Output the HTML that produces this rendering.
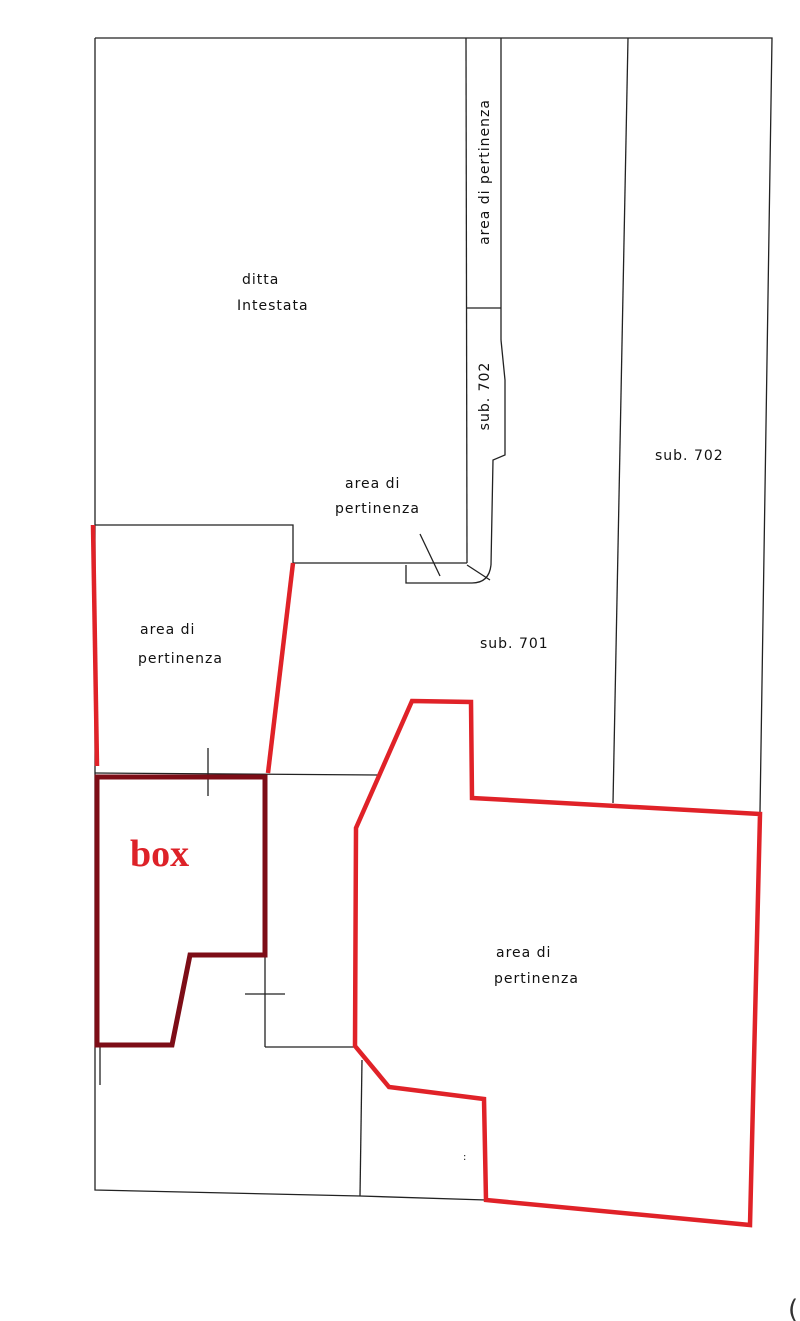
<!DOCTYPE html>
<html><head><meta charset="utf-8"><style>
html,body{margin:0;padding:0;background:#fff;}
svg{display:block;}
text{font-family:"DejaVu Sans","Liberation Sans",sans-serif;font-size:14px;fill:#111;letter-spacing:1px;}
</style></head><body>
<svg width="800" height="1321" viewBox="0 0 800 1321" xmlns="http://www.w3.org/2000/svg">
<g fill="none" stroke="#222" stroke-width="1.3">
<polyline points="95,38 772,38 760,812"/>
<polyline points="95,38 95,1190 360,1196 486,1200"/>
<line x1="628" y1="38" x2="613" y2="803"/>
<line x1="466" y1="38" x2="467" y2="563"/>
<line x1="501" y1="38" x2="501" y2="340"/>
<line x1="466" y1="308" x2="501" y2="308"/>
<polyline points="501,340 505,380 505,455 493,460 491,565"/>
<path d="M491,565 Q489,583 472,583 L406,583 L406,565"/>
<line x1="467" y1="565" x2="490" y2="580"/>
<line x1="293" y1="563" x2="467" y2="563"/>
<polyline points="95,525 293,525 293,563"/>
<line x1="420" y1="534" x2="440" y2="576"/>
<line x1="95" y1="773" x2="378" y2="775"/>
<line x1="208" y1="748" x2="208" y2="796"/>
<line x1="265" y1="955" x2="265" y2="1047"/>
<line x1="265" y1="1047" x2="355" y2="1047"/>
<line x1="245" y1="994" x2="285" y2="994"/>
<line x1="362" y1="1060" x2="360" y2="1196"/>
<line x1="100" y1="1045" x2="100" y2="1085"/>
</g>
<g fill="none" stroke="#e02228" stroke-width="4.5" stroke-linejoin="miter">
<line x1="93" y1="525" x2="97" y2="766"/>
<line x1="293" y1="563" x2="268" y2="773"/>
<polygon points="412,701 471,702 472,798 760,814 750,1225 486,1200 484,1099 389,1087 355,1046 356,828"/>
</g>
<polygon points="97,777 265,777 265,955 190,955 172,1045 97,1045" fill="none" stroke="#7d0d17" stroke-width="5"/>
<text x="130" y="866" style="font-family:'Liberation Serif',serif;font-weight:bold;font-size:38px;fill:#dd2228;letter-spacing:0">box</text>
<text x="242" y="284">ditta</text>
<text x="237" y="310">Intestata</text>
<text x="345" y="488">area di</text>
<text x="335" y="513">pertinenza</text>
<text x="140" y="634">area di</text>
<text x="138" y="663">pertinenza</text>
<text x="480" y="648">sub. 701</text>
<text x="655" y="460">sub. 702</text>
<text x="496" y="957">area di</text>
<text x="494" y="983">pertinenza</text>
<text transform="translate(489,172) rotate(-90)" text-anchor="middle">area di pertinenza</text>
<text transform="translate(489,396) rotate(-90)" text-anchor="middle">sub. 702</text>
<text x="463" y="1160" style="font-size:10px">:</text>
<text x="788" y="1318" style="font-size:26px;fill:#333">(</text>
</svg>
</body></html>
